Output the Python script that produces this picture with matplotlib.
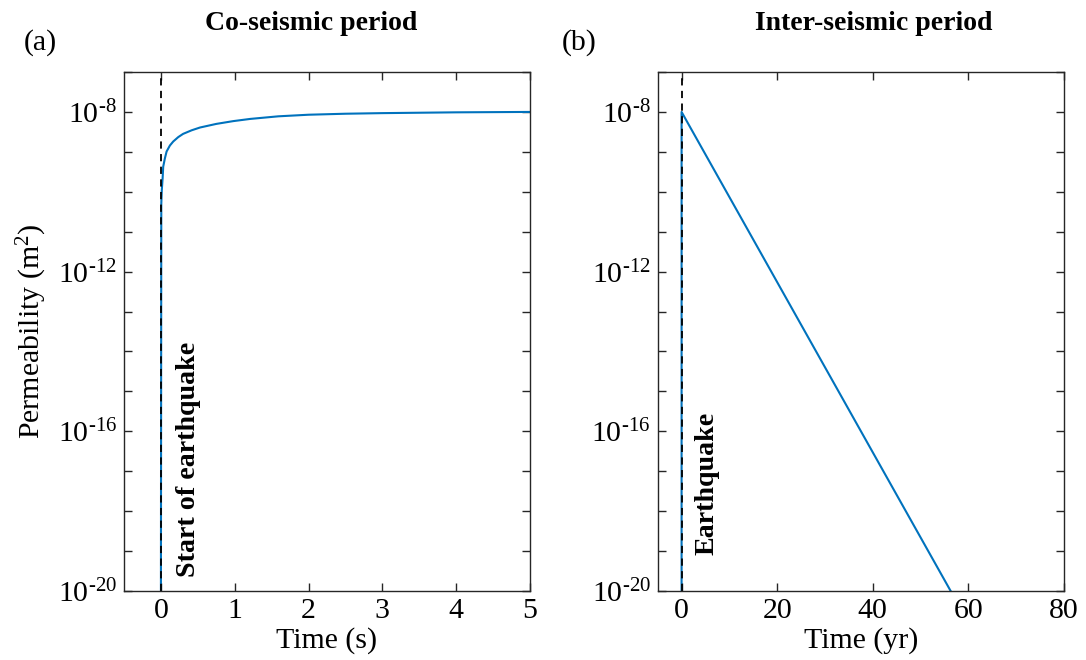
import numpy as np
import matplotlib
matplotlib.use("Agg")
import matplotlib.pyplot as plt
from matplotlib.ticker import FixedLocator, NullLocator

plt.rcParams['font.family'] = ['Liberation Serif', 'DejaVu Serif']
plt.rcParams['mathtext.fontset'] = 'custom'
plt.rcParams['mathtext.rm'] = 'Liberation Serif'
plt.rcParams['mathtext.it'] = 'Liberation Serif:italic'
plt.rcParams['mathtext.bf'] = 'Liberation Serif:bold'

# co-seismic: time (s) and log10 permeability (m^2)
t_co = [0, 0.005, 0.012, 0.023, 0.031, 0.054, 0.077, 0.122, 0.167, 0.235, 0.30, 0.416,
        0.53, 0.75, 0.98, 1.21, 1.59, 2.0, 2.5, 3.0, 4.0, 5.0]
logk_co = [-20, -10.3, -9.95, -9.66, -9.37, -9.16, -8.99, -8.84, -8.74, -8.63, -8.55, -8.46,
           -8.39, -8.30, -8.23, -8.175, -8.11, -8.07, -8.045, -8.03, -8.01, -8.0]

# inter-seismic: time (yr) and log10 permeability
t_inter = [0, 0, 56.3]
logk_inter = [-20, -8, -20]

ytick_exp = [-20, -16, -12, -8]
xticks_co = [0, 1, 2, 3, 4, 5]
xticks_inter = [0, 20, 40, 60, 80]

blue = '#0072BD'
spine = '#262626'
fs = 21.5
HYPHEN = '\u2010'

fig = plt.figure(figsize=(10.86, 6.6), dpi=100)
ax1 = fig.add_axes([0.1142, 0.1045, 0.3738, 0.7864])
ax2 = fig.add_axes([0.6056, 0.1045, 0.3741, 0.7864])


def style(ax):
    ax.set_yscale('log')
    ax.set_ylim(1e-20, 1e-7)
    ax.yaxis.set_major_locator(FixedLocator([10.0 ** e for e in range(-20, -6)]))
    ax.yaxis.set_minor_locator(NullLocator())
    labels = ['$\\mathregular{10^{' + HYPHEN + str(-e) + '}}$' if e in ytick_exp else ''
              for e in range(-20, -6)]
    ax.set_yticklabels(labels)
    ax.tick_params(direction='in', length=6, width=1, top=True, right=True,
                   labelsize=fs, color=spine, pad=5)
    for s in ax.spines.values():
        s.set_color(spine)
        s.set_linewidth(1)


ax1.plot(t_co, [10.0 ** v for v in logk_co], color=blue, lw=1.5)
ax1.axvline(0, color='k', ls='--', lw=1.3, dashes=(4, 3))
style(ax1)
ax1.set_xlim(-0.5, 5)
ax1.set_xticks(xticks_co)
ax1.set_xlabel('Time (s)', fontsize=fs, labelpad=2)
ax1.set_ylabel(r'Permeability (m$^2$)', fontsize=fs, labelpad=6)
fig.text(0.2864, 0.965, 'Co-seismic period', fontsize=20, fontweight='bold',
         ha='center', va='center')
ax1.text(0.2, 2.2e-20, 'Start of earthquake', rotation=90, fontsize=20.2,
         fontweight='bold', ha='left', va='bottom')
fig.text(0.037, 0.936, '(a)', fontsize=fs, ha='center', va='center')

ax2.plot(t_inter, [10.0 ** v for v in logk_inter], color=blue, lw=1.5)
ax2.axvline(0, color='k', ls='--', lw=1.3, dashes=(4, 3))
style(ax2)
ax2.set_xlim(-5, 80)
ax2.set_xticks(xticks_inter)
ax2.set_xlabel('Time (yr)', fontsize=fs, labelpad=2)
fig.text(0.8048, 0.965, 'Inter-seismic period', fontsize=20, fontweight='bold',
         ha='center', va='center')
ax2.text(2.8, 8e-20, 'Earthquake', rotation=90, fontsize=20.2,
         fontweight='bold', ha='left', va='bottom')
fig.text(0.533, 0.936, '(b)', fontsize=fs, ha='center', va='center')

fig.savefig('out.png', dpi=100)
